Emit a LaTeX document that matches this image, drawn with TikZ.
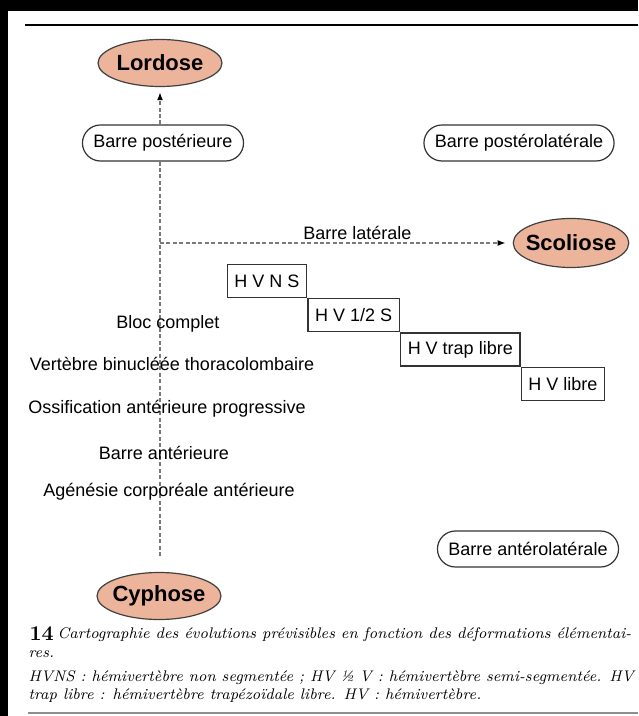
\documentclass[tikz,border=0pt]{standalone}
\usepackage{fontspec}
\setsansfont{Liberation Sans}
\usetikzlibrary{arrows.meta, positioning, shapes.geometric}
\definecolor{csalmon}{HTML}{EDB49C}
\definecolor{cline}{HTML}{7A7A7A}
\definecolor{crule}{HTML}{8E8E8E}
\tikzset{
  every picture/.style={font=\sffamily, line width=0.6pt},
  defo/.style={ellipse, draw=black!75, fill=csalmon, inner xsep=-2.2pt, inner ysep=0pt, minimum width=62pt, minimum height=23.5pt, font=\sffamily\bfseries\fontsize{11}{13}\selectfont},
  pill/.style={draw=black!80, rounded corners=9pt, minimum height=18pt, inner xsep=5.5pt, font=\sffamily\fontsize{9}{11}\selectfont},
  hv/.style={draw=black!80, minimum height=16.5pt, inner xsep=3.6pt, font=\sffamily\fontsize{9}{11}\selectfont},
  lbl/.style={font=\sffamily\fontsize{9}{11}\selectfont},
  link/.style={draw=cline, line width=0.75pt, dash pattern=on 2pt off 1.2pt},
  arrow/.style={link, -{Latex[length=4pt, width=3pt, black]}},
  capt/.style={anchor=base west, inner sep=0pt, font=\rmfamily\itshape\fontsize{7.7}{9}\selectfont},
}

\begin{document}
\begin{tikzpicture}[x=0.5pt, y=-0.5pt]
  % page frame and rules
  \useasboundingbox (0,0) rectangle (638,716);
  \fill[black] (0,0) rectangle (638,716);
  \fill[white] (8,11) rectangle (638,716);
  \draw[line width=1.3pt] (25,25) -- (638,25);
  \draw[crule, line width=1.3pt] (28,713) -- (638,713);

  \node[defo] (lordose) at (160,63) {Lordose};
  \node[defo, minimum width=57.5pt, minimum height=24.5pt] (scoliose) at (571,243) {Scoliose};
  \node[defo] (cyphose) at (159,596) {Cyphose};

  \node[pill] (post) at (163,143) {Barre postérieure};
  \node[pill] (postlat) at (519,143) {Barre postérolatérale};
  \node[pill] (antlat) at (528,549) {Barre antérolatérale};

  \node[hv] (hvns) at (267,281) {H V N S};
  \node[hv, anchor=north west] (hvds) at (hvns.south east) {H V 1/2 S};
  \node[hv, anchor=north west] (hvtrap) at (hvds.south east) {H V trap libre};
  \node[hv, anchor=north west] (hvlibre) at (hvtrap.south east) {H V libre};

  \coordinate (fork) at (lordose |- scoliose);
  \coordinate (foot) at (160,557);
  \draw[link] (lordose |- post.south) -- (foot);
  \draw[arrow, shorten >=2.5pt] (lordose |- post.north) -- (lordose.south);
  \draw[arrow, shorten >=3.5pt] (fork) -- node[lbl, above, pos=0.56, inner sep=1.5pt] (lat) {Barre latérale} (scoliose.west);

  \node[lbl] (bloc) at (168,324) {Bloc complet};
  \node[lbl] (binu) at (172,364) {Vertèbre binucléée thoracolombaire};
  \node[lbl] (ossif) at (167,409) {Ossification antérieure progressive};
  \node[lbl] (ant) at (164,453) {Barre antérieure};
  \node[lbl] (agen) at (169,492) {Agénésie corporéale antérieure};

  % legend
  \node[anchor=base west, inner sep=0pt, font=\rmfamily\bfseries\fontsize{10.5}{12}\selectfont] (num) at (29,640) {14};
  \node[capt] (c1) at (57,638) {Cartographie des évolutions prévisibles en fonction des déformations élémentai-};
  \node[capt] (c2) at (28,657) {res.};
  \node[capt] (c3) at (28,681) {HVNS : hémivertèbre non segmentée ; HV ½ V : hémivertèbre semi-segmentée. HV};
  \node[capt] (c4) at (28,699) {trap libre : hémivertèbre trapézoïdale libre. HV : hémivertèbre.};
\end{tikzpicture}
\end{document}
